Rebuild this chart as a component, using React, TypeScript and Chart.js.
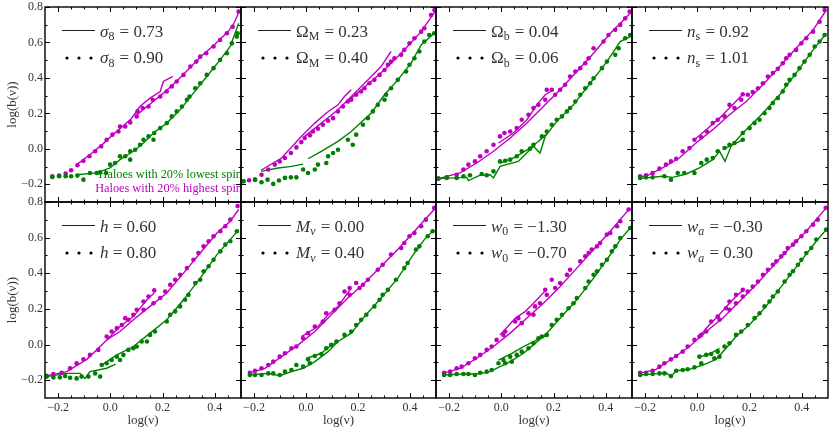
import React, { useEffect, useRef } from 'react';
import { Chart, registerables } from 'chart.js';
Chart.register(...registerables);

type Pt = [number, number];

const GREEN = '#008000';
const MAGENTA = '#bf00bf';
const FONT = '"Liberation Serif", "DejaVu Serif", serif';

const X_MIN = -0.25;
const X_MAX = 0.5;
const Y_MIN = -0.3;
const Y_MAX = 0.8;
const xMajorTicks = [-0.2, 0.0, 0.2, 0.4];
const xMinorTicks = [-0.15, -0.1, -0.05, 0.05, 0.1, 0.15, 0.25, 0.3, 0.35, 0.45];
const yMajorTicks = [-0.2, 0.0, 0.2, 0.4, 0.6, 0.8];
const yMinorTicks = [-0.1, 0.1, 0.3, 0.5, 0.7];

// ---------- sigma_8 ----------
const s8HighDots: Pt[] = [[-0.222,-0.155],[-0.196,-0.151],[-0.171,-0.140],[-0.150,-0.121],[-0.126,-0.093],[-0.103,-0.069],[-0.080,-0.042],[-0.058,-0.014],[-0.035,0.014],[-0.014,0.051],[0.008,0.080],[0.031,0.098],[0.037,0.126],[0.057,0.126],[0.076,0.149],[0.101,0.183],[0.104,0.211],[0.124,0.230],[0.146,0.239],[0.162,0.277],[0.191,0.295],[0.216,0.323],[0.235,0.352],[0.254,0.380],[0.280,0.417],[0.306,0.464],[0.329,0.492],[0.344,0.520],[0.367,0.539],[0.395,0.577],[0.420,0.614],[0.446,0.652],[0.468,0.689],[0.491,0.774]];
const s8HighLineA: Pt[] = [[-0.129,-0.089],[-0.08,-0.035],[-0.03,0.025],[0.01,0.08],[0.05,0.13],[0.08,0.17],[0.114,0.24],[0.152,0.286],[0.191,0.323],[0.203,0.38],[0.239,0.408]];
const s8HighLineB: Pt[] = [[0.10,0.19],[0.15,0.25],[0.2,0.31],[0.25,0.375],[0.3,0.45],[0.35,0.525],[0.4,0.59],[0.45,0.66],[0.47,0.70],[0.495,0.78]];
const s8LowDots: Pt[] = [[-0.222,-0.159],[-0.196,-0.155],[-0.171,-0.155],[-0.150,-0.155],[-0.126,-0.151],[-0.103,-0.174],[-0.078,-0.136],[-0.052,-0.136],[-0.039,-0.133],[-0.016,-0.136],[-0.001,-0.089],[0.018,-0.080],[0.037,-0.042],[0.057,-0.042],[0.076,-0.061],[0.076,-0.014],[0.095,-0.005],[0.114,0.023],[0.127,0.051],[0.146,0.070],[0.165,0.051],[0.168,0.089],[0.191,0.117],[0.216,0.145],[0.235,0.183],[0.254,0.211],[0.274,0.239],[0.293,0.277],[0.303,0.295],[0.325,0.342],[0.344,0.370],[0.369,0.417],[0.395,0.455],[0.420,0.502],[0.446,0.539],[0.465,0.595],[0.484,0.633],[0.487,0.652]];
const s8LowLine: Pt[] = [[-0.129,-0.146],[-0.052,-0.136],[-0.001,-0.108],[0.037,-0.061],[0.088,-0.014],[0.127,0.033],[0.165,0.089],[0.216,0.145],[0.267,0.220],[0.318,0.314],[0.369,0.408],[0.42,0.502],[0.459,0.577],[0.491,0.708]];

// ---------- Omega_M ----------
const omHighDots: Pt[] = [[-0.241,-0.183],[-0.219,-0.177],[-0.196,-0.174],[-0.171,-0.146],[-0.145,-0.117],[-0.120,-0.089],[-0.101,-0.071],[-0.081,-0.052],[-0.058,-0.024],[-0.037,0.008],[-0.018,0.038],[-0.005,0.061],[0.015,0.076],[0.027,0.098],[0.046,0.113],[0.065,0.136],[0.085,0.158],[0.104,0.173],[0.123,0.211],[0.142,0.239],[0.161,0.267],[0.174,0.277],[0.193,0.305],[0.212,0.323],[0.225,0.342],[0.244,0.370],[0.263,0.389],[0.283,0.417],[0.302,0.445],[0.315,0.474],[0.327,0.492],[0.340,0.511],[0.366,0.530],[0.378,0.558],[0.398,0.595],[0.417,0.624],[0.443,0.661],[0.455,0.680],[0.481,0.755],[0.494,0.783]];
const omHighLineA: Pt[] = [[-0.173,-0.121],[-0.094,-0.052],[-0.018,0.070],[0.034,0.145],[0.078,0.202],[0.123,0.248],[0.148,0.295],[0.174,0.333]];
const omHighLineB: Pt[] = [[-0.005,0.070],[0.059,0.145],[0.123,0.220],[0.187,0.314],[0.251,0.408],[0.289,0.464],[0.327,0.549]];
const omHighLineC: Pt[] = [[0.174,0.286],[0.251,0.380],[0.315,0.464],[0.378,0.558],[0.443,0.661],[0.474,0.727],[0.496,0.774]];
const omLowDots: Pt[] = [[-0.241,-0.183],[-0.196,-0.174],[-0.171,-0.189],[-0.148,-0.174],[-0.126,-0.198],[-0.104,-0.179],[-0.081,-0.164],[-0.058,-0.161],[-0.037,-0.161],[-0.011,-0.117],[0.008,-0.136],[0.034,-0.117],[0.046,-0.089],[0.078,-0.080],[0.085,-0.042],[0.104,-0.024],[0.123,-0.005],[0.161,0.051],[0.180,0.023],[0.193,0.080],[0.219,0.136],[0.238,0.173],[0.257,0.211],[0.276,0.248],[0.302,0.277],[0.308,0.305],[0.327,0.342],[0.353,0.389],[0.385,0.436],[0.398,0.474],[0.417,0.511],[0.436,0.549],[0.455,0.605],[0.474,0.642],[0.493,0.652]];
const omLowLineA: Pt[] = [[-0.173,-0.127],[-0.107,-0.108],[-0.056,-0.099],[-0.011,-0.086]];
const omLowLineB: Pt[] = [[0.008,-0.056],[0.059,-0.014],[0.123,0.042],[0.174,0.098],[0.251,0.202],[0.302,0.305],[0.353,0.389],[0.404,0.483],[0.443,0.586],[0.493,0.652]];

// ---------- Omega_b ----------
const obHighDots: Pt[] = [[-0.241,-0.168],[-0.209,-0.164],[-0.171,-0.146],[-0.145,-0.117],[-0.126,-0.089],[-0.101,-0.071],[-0.081,-0.042],[-0.056,-0.014],[-0.030,0.023],[-0.005,0.070],[0.012,0.089],[0.034,0.098],[0.059,0.117],[0.078,0.164],[0.104,0.192],[0.123,0.230],[0.142,0.248],[0.168,0.277],[0.174,0.333],[0.193,0.333],[0.206,0.305],[0.225,0.333],[0.244,0.361],[0.263,0.408],[0.283,0.436],[0.302,0.455],[0.321,0.483],[0.334,0.511],[0.353,0.567],[0.391,0.605],[0.410,0.642],[0.436,0.671],[0.455,0.699],[0.474,0.736],[0.491,0.774]];
const obHighLineA: Pt[] = [[-0.011,0.033],[0.046,0.089],[0.098,0.164],[0.136,0.248],[0.168,0.305],[0.199,0.333]];
const obHighLineB: Pt[] = [[-0.241,-0.168],[-0.158,-0.136],[-0.094,-0.080],[-0.030,-0.014],[0.034,0.061],[0.098,0.145],[0.161,0.239],[0.225,0.333],[0.289,0.436],[0.353,0.539],[0.417,0.652],[0.468,0.727],[0.496,0.770]];
const obLowDots: Pt[] = [[-0.241,-0.168],[-0.209,-0.161],[-0.171,-0.164],[-0.145,-0.155],[-0.120,-0.149],[-0.075,-0.142],[-0.056,-0.149],[-0.030,-0.127],[-0.005,-0.071],[0.015,-0.067],[0.034,-0.061],[0.059,-0.042],[0.078,-0.014],[0.110,0.001],[0.123,0.023],[0.155,0.070],[0.174,0.098],[0.193,0.136],[0.212,0.164],[0.232,0.183],[0.251,0.211],[0.263,0.230],[0.283,0.267],[0.302,0.305],[0.321,0.342],[0.340,0.370],[0.353,0.398],[0.385,0.455],[0.404,0.492],[0.436,0.530],[0.449,0.567],[0.474,0.624],[0.493,0.642]];
const obLowLineA: Pt[] = [[-0.241,-0.168],[-0.132,-0.161],[-0.126,-0.179],[-0.081,-0.149],[-0.043,-0.146],[-0.030,-0.164],[-0.005,-0.099],[0.065,-0.071],[0.097,-0.024],[0.123,0.014],[0.148,-0.024],[0.168,0.070],[0.212,0.155],[0.276,0.248],[0.340,0.370],[0.404,0.492],[0.455,0.605],[0.493,0.633]];
const obLowLineB: Pt[] = [[-0.005,-0.080],[0.05,-0.050],[0.10,-0.005],[0.14,0.040],[0.17,0.080]];

// ---------- n_s ----------
const nsHighDots: Pt[] = [[-0.219,-0.155],[-0.196,-0.149],[-0.171,-0.136],[-0.145,-0.112],[-0.120,-0.089],[-0.101,-0.071],[-0.081,-0.056],[-0.056,-0.014],[-0.030,0.005],[-0.011,0.051],[0.015,0.065],[0.036,0.098],[0.059,0.145],[0.078,0.164],[0.104,0.183],[0.123,0.248],[0.142,0.230],[0.168,0.277],[0.174,0.308],[0.193,0.305],[0.212,0.320],[0.232,0.342],[0.251,0.370],[0.270,0.408],[0.289,0.427],[0.308,0.451],[0.327,0.483],[0.340,0.511],[0.353,0.530],[0.378,0.558],[0.398,0.595],[0.417,0.624],[0.443,0.661],[0.468,0.717],[0.487,0.783]];
const nsHighLineA: Pt[] = [[-0.011,0.051],[0.034,0.108],[0.085,0.173],[0.123,0.230],[0.174,0.308]];
const nsHighLineB: Pt[] = [[-0.222,-0.161],[-0.184,-0.146],[-0.133,-0.108],[-0.069,-0.052],[-0.005,0.033],[0.059,0.108],[0.123,0.192],[0.187,0.267],[0.251,0.361],[0.315,0.464],[0.378,0.567],[0.443,0.671],[0.494,0.783]];
const nsLowDots: Pt[] = [[-0.219,-0.164],[-0.196,-0.161],[-0.171,-0.161],[-0.126,-0.155],[-0.101,-0.174],[-0.075,-0.136],[-0.050,-0.136],[-0.011,-0.136],[0.015,-0.080],[0.036,-0.061],[0.059,-0.052],[0.078,-0.014],[0.104,0.005],[0.123,0.023],[0.142,0.033],[0.174,0.051],[0.174,0.089],[0.200,0.117],[0.219,0.145],[0.238,0.164],[0.257,0.201],[0.276,0.230],[0.289,0.258],[0.308,0.286],[0.327,0.323],[0.340,0.361],[0.353,0.389],[0.372,0.417],[0.391,0.455],[0.410,0.492],[0.430,0.530],[0.449,0.577],[0.468,0.605],[0.487,0.642]];
const nsLowLineA: Pt[] = [[-0.222,-0.168],[-0.133,-0.155],[-0.094,-0.161],[-0.043,-0.142],[0.008,-0.108],[0.059,-0.061],[0.085,-0.014],[0.106,-0.071],[0.129,0.014],[0.174,0.089],[0.251,0.201],[0.315,0.305],[0.378,0.427],[0.443,0.558],[0.494,0.652]];
const nsLowLineB: Pt[] = [[0.11,0.005],[0.174,0.051]];

// ---------- h ----------
const hHighDots: Pt[] = [[-0.244,-0.176],[-0.218,-0.165],[-0.186,-0.158],[-0.154,-0.133],[-0.129,-0.105],[-0.103,-0.083],[-0.078,-0.058],[-0.046,-0.030],[-0.014,0.045],[0.005,0.073],[0.025,0.092],[0.044,0.110],[0.057,0.148],[0.069,0.139],[0.088,0.167],[0.101,0.195],[0.127,0.242],[0.146,0.270],[0.168,0.304],[0.127,0.195],[0.165,0.232],[0.191,0.261],[0.210,0.298],[0.229,0.336],[0.248,0.364],[0.267,0.392],[0.293,0.429],[0.318,0.476],[0.337,0.514],[0.357,0.551],[0.376,0.580],[0.395,0.608],[0.421,0.636],[0.440,0.664],[0.459,0.701],[0.487,0.777]];
const hHighLineA: Pt[] = [[-0.244,-0.176],[-0.167,-0.152],[-0.090,-0.083],[-0.026,0.007],[0.037,0.101],[0.088,0.157],[0.140,0.251],[0.168,0.289]];
const hHighLineB: Pt[] = [[-0.014,0.026],[0.037,0.073],[0.088,0.139],[0.152,0.214],[0.216,0.289],[0.280,0.401],[0.344,0.514],[0.408,0.626],[0.459,0.692],[0.491,0.758]];
const hLowDots: Pt[] = [[-0.244,-0.180],[-0.218,-0.184],[-0.193,-0.184],[-0.173,-0.177],[-0.154,-0.186],[-0.129,-0.190],[-0.110,-0.180],[-0.084,-0.180],[-0.058,-0.162],[-0.039,-0.180],[-0.033,-0.115],[-0.014,-0.105],[0.005,-0.087],[0.025,-0.068],[0.037,-0.087],[0.050,-0.058],[0.069,-0.030],[0.088,-0.021],[0.101,-0.011],[0.120,0.017],[0.140,0.017],[0.152,0.054],[0.171,0.073],[0.216,0.129],[0.229,0.167],[0.248,0.186],[0.267,0.214],[0.286,0.251],[0.299,0.279],[0.325,0.345],[0.344,0.364],[0.357,0.411],[0.376,0.439],[0.395,0.476],[0.421,0.523],[0.440,0.561],[0.459,0.580],[0.484,0.636]];
const hLowLineA: Pt[] = [[-0.244,-0.180],[-0.167,-0.162],[-0.116,-0.162],[-0.097,-0.190],[-0.078,-0.152],[-0.014,-0.133],[0.02,-0.11]];
const hLowLineB: Pt[] = [[-0.033,-0.115],[0.025,-0.058],[0.088,-0.011],[0.152,0.064],[0.216,0.139],[0.280,0.251],[0.344,0.373],[0.408,0.505],[0.459,0.589],[0.491,0.645]];

// ---------- M_nu ----------
const mnuHighDots: Pt[] = [[-0.216,-0.158],[-0.196,-0.147],[-0.171,-0.133],[-0.145,-0.115],[-0.126,-0.096],[-0.101,-0.068],[-0.081,-0.049],[-0.056,-0.021],[-0.037,-0.011],[-0.011,0.035],[0.008,0.064],[0.034,0.101],[0.065,0.129],[0.078,0.176],[0.110,0.195],[0.129,0.232],[0.148,0.298],[0.168,0.317],[0.193,0.345],[0.168,0.279],[0.206,0.317],[0.219,0.336],[0.238,0.364],[0.276,0.420],[0.295,0.448],[0.327,0.505],[0.366,0.542],[0.378,0.570],[0.398,0.608],[0.417,0.626],[0.443,0.664],[0.461,0.701],[0.493,0.767]];
const mnuHighLineA: Pt[] = [[-0.018,0.045],[0.046,0.101],[0.085,0.167],[0.123,0.214],[0.174,0.317]];
const mnuHighLineB: Pt[] = [[-0.222,-0.162],[-0.158,-0.134],[-0.094,-0.068],[-0.030,-0.002],[0.034,0.073],[0.097,0.167],[0.161,0.261],[0.225,0.345],[0.289,0.439],[0.353,0.533],[0.417,0.636],[0.493,0.758]];
const mnuLowDots: Pt[] = [[-0.216,-0.171],[-0.196,-0.171],[-0.171,-0.171],[-0.145,-0.162],[-0.126,-0.162],[-0.101,-0.171],[-0.081,-0.152],[-0.056,-0.143],[-0.037,-0.115],[-0.011,-0.124],[0.008,-0.083],[0.015,-0.105],[0.034,-0.064],[0.059,-0.053],[0.078,-0.021],[0.097,-0.002],[0.117,0.017],[0.148,0.054],[0.174,0.073],[0.193,0.110],[0.212,0.139],[0.232,0.167],[0.263,0.214],[0.283,0.251],[0.295,0.279],[0.315,0.307],[0.346,0.364],[0.378,0.429],[0.391,0.458],[0.423,0.533],[0.436,0.551],[0.468,0.608],[0.487,0.636]];
const mnuLowLineA: Pt[] = [[-0.222,-0.171],[-0.145,-0.162],[-0.101,-0.175],[-0.056,-0.152],[-0.011,-0.133],[0.034,-0.096],[0.085,-0.040],[0.123,0.017],[0.174,0.064],[0.225,0.157],[0.289,0.261],[0.353,0.373],[0.417,0.514],[0.455,0.589],[0.493,0.645]];
const mnuLowLineB: Pt[] = [[0.002,-0.077],[0.059,-0.049],[0.091,-0.011],[0.123,0.017]];

// ---------- w_0 ----------
const w0HighDots: Pt[] = [[-0.219,-0.158],[-0.196,-0.152],[-0.171,-0.133],[-0.152,-0.124],[-0.126,-0.105],[-0.101,-0.077],[-0.081,-0.058],[-0.056,-0.030],[-0.037,-0.011],[-0.018,0.026],[0.008,0.054],[0.015,0.073],[0.053,0.129],[0.065,0.148],[0.078,0.120],[0.104,0.176],[0.123,0.167],[0.129,0.214],[0.148,0.232],[0.174,0.279],[0.168,0.307],[0.193,0.364],[0.206,0.317],[0.225,0.345],[0.251,0.392],[0.263,0.420],[0.302,0.467],[0.321,0.495],[0.334,0.514],[0.346,0.533],[0.366,0.551],[0.378,0.570],[0.404,0.617],[0.417,0.626],[0.443,0.664],[0.455,0.692],[0.487,0.758]];
const w0HighLineA: Pt[] = [[-0.005,0.054],[0.053,0.148],[0.091,0.185],[0.123,0.232],[0.174,0.311]];
const w0HighLineB: Pt[] = [[-0.222,-0.162],[-0.158,-0.134],[-0.094,-0.077],[-0.030,-0.011],[0.034,0.064],[0.097,0.148],[0.161,0.232],[0.225,0.326],[0.289,0.429],[0.353,0.533],[0.417,0.636],[0.493,0.767]];
const w0LowDots: Pt[] = [[-0.219,-0.171],[-0.196,-0.171],[-0.171,-0.165],[-0.145,-0.165],[-0.126,-0.165],[-0.101,-0.171],[-0.081,-0.158],[-0.056,-0.152],[-0.037,-0.143],[-0.011,-0.105],[0.008,-0.087],[0.015,-0.105],[0.034,-0.068],[0.040,-0.096],[0.059,-0.058],[0.078,-0.040],[0.104,-0.021],[0.123,0.007],[0.142,0.035],[0.155,0.045],[0.174,0.054],[0.193,0.110],[0.212,0.139],[0.232,0.167],[0.257,0.204],[0.276,0.232],[0.289,0.261],[0.321,0.317],[0.334,0.354],[0.353,0.392],[0.366,0.411],[0.385,0.448],[0.404,0.476],[0.423,0.523],[0.436,0.551],[0.455,0.598],[0.493,0.654]];
const w0LowLineA: Pt[] = [[-0.222,-0.171],[-0.145,-0.165],[-0.094,-0.165],[-0.043,-0.152],[-0.005,-0.124],[0.034,-0.096],[0.085,-0.049],[0.123,-0.002],[0.174,0.064],[0.225,0.148],[0.289,0.251],[0.353,0.373],[0.417,0.504],[0.455,0.589],[0.493,0.654]];
const w0LowLineB: Pt[] = [[-0.011,-0.087],[0.040,-0.049],[0.085,-0.012],[0.136,0.026],[0.180,0.054]];

// ---------- w_a ----------
const waHighDots: Pt[] = [[-0.219,-0.158],[-0.196,-0.158],[-0.171,-0.147],[-0.145,-0.124],[-0.126,-0.105],[-0.101,-0.083],[-0.081,-0.064],[-0.056,-0.040],[-0.037,-0.011],[-0.011,0.026],[0.008,0.045],[0.015,0.054],[0.034,0.073],[0.053,0.129],[0.078,0.157],[0.110,0.204],[0.123,0.242],[0.148,0.279],[0.174,0.307],[0.085,0.139],[0.123,0.195],[0.148,0.232],[0.174,0.270],[0.193,0.298],[0.212,0.326],[0.232,0.354],[0.251,0.392],[0.270,0.420],[0.289,0.448],[0.302,0.467],[0.321,0.495],[0.334,0.514],[0.346,0.542],[0.366,0.561],[0.378,0.580],[0.398,0.608],[0.417,0.636],[0.443,0.673],[0.461,0.701],[0.491,0.767]];
const waHighLineA: Pt[] = [[0.008,0.045],[0.046,0.111],[0.078,0.157],[0.123,0.232],[0.148,0.270],[0.174,0.304]];
const waHighLineB: Pt[] = [[-0.222,-0.162],[-0.158,-0.139],[-0.094,-0.077],[-0.030,-0.011],[0.034,0.073],[0.097,0.148],[0.161,0.242],[0.225,0.336],[0.289,0.439],[0.353,0.542],[0.417,0.636],[0.493,0.767]];
const waLowDots: Pt[] = [[-0.219,-0.171],[-0.196,-0.165],[-0.171,-0.165],[-0.145,-0.162],[-0.126,-0.162],[-0.101,-0.177],[-0.081,-0.147],[-0.056,-0.143],[-0.037,-0.139],[-0.011,-0.128],[0.008,-0.068],[0.015,-0.105],[0.034,-0.058],[0.053,-0.053],[0.065,-0.077],[0.078,-0.040],[0.085,-0.068],[0.104,-0.011],[0.123,0.007],[0.148,0.054],[0.168,0.073],[0.193,0.110],[0.219,0.148],[0.238,0.176],[0.257,0.214],[0.276,0.242],[0.289,0.270],[0.308,0.298],[0.334,0.354],[0.353,0.392],[0.366,0.411],[0.385,0.448],[0.398,0.476],[0.417,0.514],[0.436,0.542],[0.455,0.589],[0.493,0.645]];
const waLowLineA: Pt[] = [[-0.222,-0.171],[-0.145,-0.162],[-0.120,-0.158],[-0.101,-0.180],[-0.081,-0.147],[-0.030,-0.139],[0.021,-0.115],[0.072,-0.083],[0.110,-0.021],[0.148,0.045],[0.199,0.110],[0.263,0.214],[0.327,0.336],[0.391,0.458],[0.455,0.580],[0.493,0.645]];
const waLowLineB: Pt[] = [[0.002,-0.072],[0.046,-0.053],[0.085,-0.021]];

// ---------- legend labels ----------
const paramSymbols = ['σ', 'Ω', 'Ω', 'n', 'h', 'M', 'w', 'w'];
const symbolItalic = [true, false, false, true, true, true, true, true];
const paramSubs = ['8', 'M', 'b', 's', '', 'ν', '0', 'a'];
const subItalic = [false, false, false, false, false, true, false, true];
const solidValues = ['0.73', '0.23', '0.04', '0.92', '0.60', '0.00', '−1.30', '−0.30'];
const dottedValues = ['0.90', '0.40', '0.06', '1.01', '0.80', '0.40', '−0.70', '0.30'];
const noteLines = ['Haloes with 20% lowest spin', 'Haloes with 20% highest spin'];

const highDots = [s8HighDots, omHighDots, obHighDots, nsHighDots, hHighDots, mnuHighDots, w0HighDots, waHighDots];
const lowDots = [s8LowDots, omLowDots, obLowDots, nsLowDots, hLowDots, mnuLowDots, w0LowDots, waLowDots];
const highLines: Pt[][][] = [
  [s8HighLineA, s8HighLineB],
  [omHighLineA, omHighLineB, omHighLineC],
  [obHighLineA, obHighLineB],
  [nsHighLineA, nsHighLineB],
  [hHighLineA, hHighLineB],
  [mnuHighLineA, mnuHighLineB],
  [w0HighLineA, w0HighLineB],
  [waHighLineA, waHighLineB],
];
const lowLines: Pt[][][] = [
  [s8LowLine],
  [omLowLineA, omLowLineB],
  [obLowLineA, obLowLineB],
  [nsLowLineA, nsLowLineB],
  [hLowLineA, hLowLineB],
  [mnuLowLineA, mnuLowLineB],
  [w0LowLineA, w0LowLineB],
  [waLowLineA, waLowLineB],
];

// layout
const colEdges = [45, 241, 436, 632, 828];
const rowEdges = [7, 202, 398];

const fmt = (v: number) => (v < 0 ? '−' : '') + Math.abs(v).toFixed(1);

type Part = { t: string; italic?: boolean; sub?: boolean };
function drawMath(ctx: CanvasRenderingContext2D, x: number, y: number, parts: Part[], size: number) {
  let cx = x;
  for (const p of parts) {
    const fs = p.sub ? size * 0.7 : size;
    ctx.font = `${p.italic ? 'italic ' : ''}${fs}px ${FONT}`;
    ctx.fillText(p.t, cx, y + (p.sub ? size * 0.22 : 0));
    cx += ctx.measureText(p.t).width + (p.sub ? 1 : 0);
  }
}

const decorPlugin = {
  id: 'panelDecor',
  afterDraw(chart: any, _args: any, opts: any) {
    const { ctx, chartArea: a, scales } = chart;
    const xs = scales.x;
    const ys = scales.y;
    ctx.save();
    ctx.strokeStyle = '#000';
    ctx.lineWidth = 1;
    const seg = (x1: number, y1: number, x2: number, y2: number) => {
      ctx.beginPath();
      ctx.moveTo(x1, y1);
      ctx.lineTo(x2, y2);
      ctx.stroke();
    };
    const xt = (vals: number[], len: number) => vals.forEach((v) => {
      const px = Math.round(xs.getPixelForValue(v)) + 0.5;
      seg(px, a.bottom, px, a.bottom - len);
      seg(px, a.top, px, a.top + len);
    });
    const yt = (vals: number[], len: number) => vals.forEach((v) => {
      const py = Math.round(ys.getPixelForValue(v)) + 0.5;
      seg(a.left, py, a.left + len, py);
      seg(a.right, py, a.right - len, py);
    });
    xt(xMajorTicks, 5); xt(xMinorTicks, 2.5);
    yt(yMajorTicks, 5); yt(yMinorTicks, 2.5);
    ctx.lineWidth = 1.4;
    ctx.strokeRect(a.left, a.top, a.right - a.left, a.bottom - a.top);

    // legend
    const i = opts.index;
    const lx = a.left;
    const ty = a.top;
    ctx.lineWidth = 1;
    ctx.strokeStyle = '#222';
    seg(lx + 17, ty + 23.5, lx + 50, ty + 23.5);
    ctx.fillStyle = '#000';
    [22, 34, 46].forEach((dx) => {
      ctx.beginPath();
      ctx.arc(lx + dx, ty + 51, 1.6, 0, Math.PI * 2);
      ctx.fill();
    });
    ctx.fillStyle = '#333';
    ctx.textBaseline = 'alphabetic';
    ctx.textAlign = 'left';
    const base: Part[] = [{ t: paramSymbols[i], italic: symbolItalic[i] }];
    if (paramSubs[i]) base.push({ t: paramSubs[i], sub: true, italic: subItalic[i] });
    drawMath(ctx, lx + 55, ty + 29.5, [...base, { t: ' = ' + solidValues[i] }], 17);
    drawMath(ctx, lx + 55, ty + 56, [...base, { t: ' = ' + dottedValues[i] }], 17);

    if (opts.note) {
      ctx.textAlign = 'right';
      ctx.font = `12.3px ${FONT}`;
      ctx.fillStyle = GREEN;
      ctx.fillText(noteLines[0], a.right + 1, 181);
      ctx.fillStyle = MAGENTA;
      ctx.fillText(noteLines[1], a.right + 1, 195);
    }
    ctx.restore();
  },
};

function Panel({ index }: { index: number }) {
  const ref = useRef<HTMLCanvasElement>(null);
  const r = Math.floor(index / 4);
  const c = index % 4;
  const PL = colEdges[c], PR = colEdges[c + 1], PT = rowEdges[r], PB = rowEdges[r + 1];
  const padL = c === 0 ? 45 : 10;
  const padR = 10;
  const padT = 10;
  const padB = r === 1 ? 32 : 10;
  const left = PL - padL;
  const top = PT - padT;
  const width = PR - PL + padL + padR;
  const height = PB - PT + padT + padB;

  useEffect(() => {
    const tickFont = { family: FONT, size: 12 };
    const datasets: any[] = [
      { data: lowDots[index], backgroundColor: GREEN, borderWidth: 0, pointRadius: 2.3, pointHoverRadius: 2.3 },
      { data: highDots[index], backgroundColor: MAGENTA, borderWidth: 0, pointRadius: 2.3, pointHoverRadius: 2.3 },
    ];
    lowLines[index].forEach((d) => datasets.push({ data: d, showLine: true, borderColor: GREEN, borderWidth: 1.4, pointRadius: 0, fill: false }));
    highLines[index].forEach((d) => datasets.push({ data: d, showLine: true, borderColor: MAGENTA, borderWidth: 1.4, pointRadius: 0, fill: false }));

    const chart = new Chart(ref.current as HTMLCanvasElement, {
      type: 'scatter',
      data: { datasets },
      plugins: [decorPlugin],
      options: {
        animation: false,
        responsive: false,
        events: [],
        layout: { padding: { left: c === 0 ? 0 : padL, right: padR, top: padT, bottom: r === 1 ? 0 : padB } },
        plugins: {
          legend: { display: false },
          tooltip: { enabled: false },
          panelDecor: { index, note: index === 0 },
        } as any,
        scales: {
          x: {
            type: 'linear',
            min: X_MIN,
            max: X_MAX,
            display: r === 1,
            afterBuildTicks: (s: any) => { s.ticks = xMajorTicks.map((v) => ({ value: v })); },
            afterFit: (s: any) => { if (r === 1) s.height = 32; },
            grid: { display: false, drawTicks: false },
            border: { display: false },
            ticks: { padding: 3, font: tickFont, color: '#333', maxRotation: 0, autoSkip: false, callback: (v: any) => fmt(Number(v)) },
            title: { display: true, text: 'log(ν)', font: { family: FONT, size: 13 }, color: '#333', padding: { top: 0, bottom: 2 } },
          },
          y: {
            type: 'linear',
            min: Y_MIN,
            max: Y_MAX,
            display: c === 0,
            afterBuildTicks: (s: any) => { s.ticks = yMajorTicks.map((v) => ({ value: v })); },
            afterFit: (s: any) => { if (c === 0) s.width = 45; },
            grid: { display: false, drawTicks: false },
            border: { display: false },
            ticks: { padding: 2, font: tickFont, color: '#333', autoSkip: false, callback: (v: any) => fmt(Number(v)) },
            title: { display: true, text: 'log(b(ν))', font: { family: FONT, size: 13 }, color: '#333', padding: { top: 5, bottom: 0 } },
          },
        },
      } as any,
    });
    return () => chart.destroy();
  }, []);

  return (
    <canvas
      ref={ref}
      width={width}
      height={height}
      style={{ position: 'absolute', left, top, width, height }}
    />
  );
}

export default function App() {
  return (
    <div style={{ position: 'absolute', left: 0, top: 0, width: 831, height: 430, background: '#fff', overflow: 'hidden' }}>
      {[0, 1, 2, 3, 4, 5, 6, 7].map((i) => (
        <Panel key={i} index={i} />
      ))}
    </div>
  );
}
